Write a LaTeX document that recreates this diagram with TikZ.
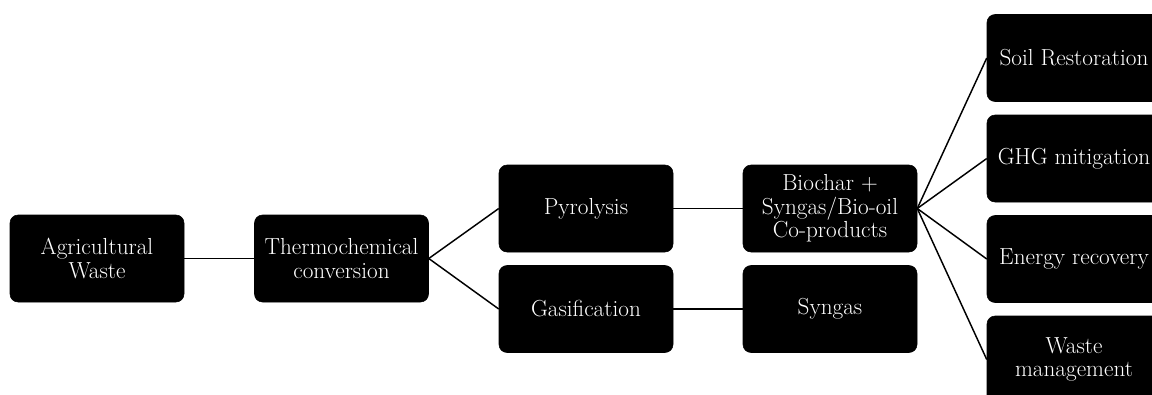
\documentclass[tikz,border=0pt]{standalone}
\usepackage{tikz}

\begin{document}
\begin{tikzpicture}[x=0.75pt, y=-0.75pt,
    stage/.style={fill=black, draw=black, rounded corners=6pt,
      minimum width=130.5pt, minimum height=65.25pt, inner sep=1pt,
      text=white, align=center, font=\fontsize{17.4}{17.6}\selectfont},
    link/.style={line width=1.1pt}]
    \useasboundingbox (0,0) rectangle (1152,394);

    % draw process nodes
    \node[stage] (agri)   at (97,258.5)  {Agricultural\\Waste};
    \node[stage] (thermo) at (341.5,258.5) {Thermochemical\\conversion};
    \node[stage] (pyro)   at (586,208.5) {Pyrolysis};
    \node[stage] (gasi)   at (586,309)   {Gasification};
    \node[stage] (bio)    at (830,208.5) {Biochar +\\Syngas/Bio-oil\\Co-products};
    \node[stage] (syn)    at (830,309)   {Syngas};

    % draw application nodes
    \foreach \name/\y/\txt in {soil/58/{Soil Restoration}, ghg/158.5/{GHG mitigation},
        energy/259/{Energy recovery}, waste/359.5/{Waste\\management}}
      \node[stage] (\name) at (1074,\y) {\txt};

    % draw links
    \draw[link] (agri.east) -- (thermo.west);
    \draw[link] (thermo.east) -- (pyro.west);
    \draw[link] (thermo.east) -- (gasi.west);
    \draw[link] (pyro.east) -- (bio.west);
    \draw[link] (gasi.east) -- (syn.west);
    \foreach \name in {soil,ghg,energy,waste}
      \draw[link] (bio.east) -- (\name.west);
\end{tikzpicture}
\end{document}
